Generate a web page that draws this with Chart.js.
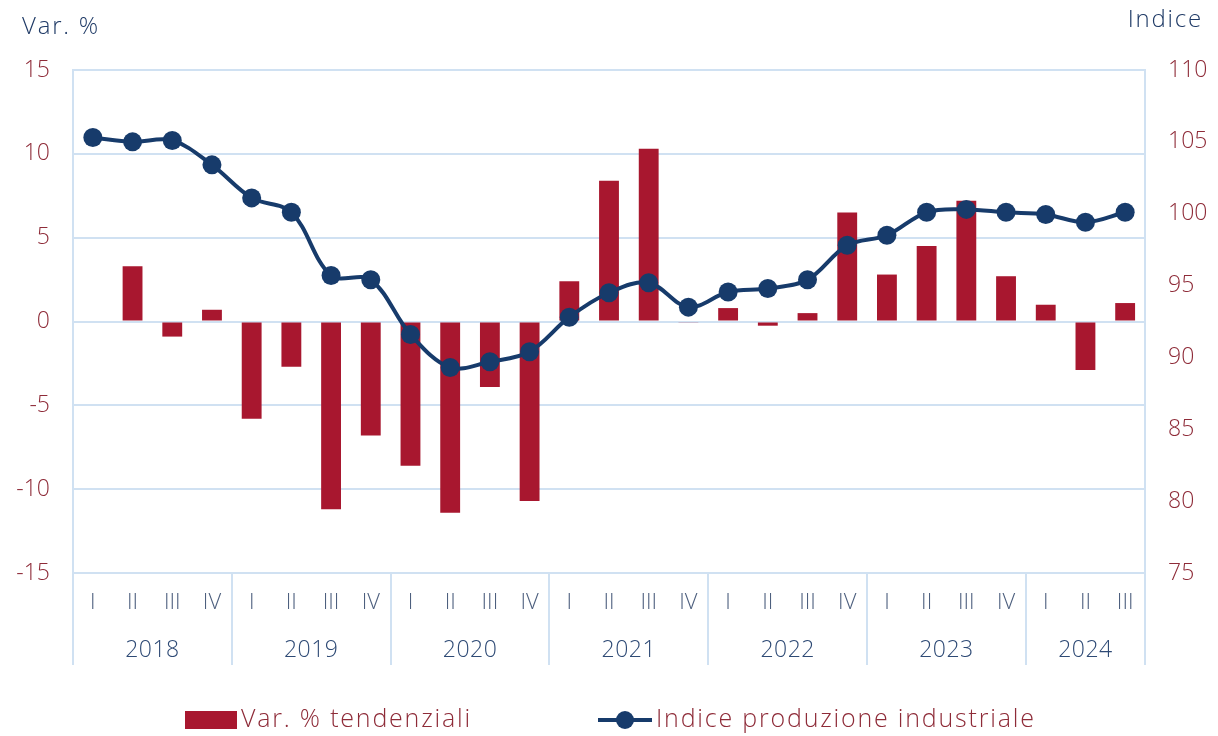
<!DOCTYPE html>
<html>
<head>
<meta charset="utf-8">
<script src="https://cdn.jsdelivr.net/npm/chart.js@4.4.1/dist/chart.umd.min.js"></script>
<style>
html,body{margin:0;padding:0;background:#ffffff;}
#wrap{width:1218px;height:736px;position:relative;}
</style>
</head>
<body>
<div id="wrap"><canvas id="c" width="1218" height="736"></canvas></div>
<script>
// ---- DATA ----
const quarters = ['I','II','III','IV','I','II','III','IV','I','II','III','IV','I','II','III','IV','I','II','III','IV','I','II','III','IV','I','II','III'];
const years = ['2018','2019','2020','2021','2022','2023','2024'];
const quartersPerYear = [4,4,4,4,4,4,3];
const varTendenziali = [0.0, 3.3, -0.9, 0.7, -5.8, -2.7, -11.2, -6.8, -8.6, -11.4, -3.9, -10.7, 2.4, 8.4, 10.3, -0.05, 0.8, -0.25, 0.5, 6.5, 2.8, 4.5, 7.2, 2.7, 1.0, -2.9, 1.1];
const indiceProduzione = [105.3, 105.0, 105.1, 103.4, 101.1, 100.1, 95.7, 95.4, 91.6, 89.3, 89.7, 90.4, 92.8, 94.5, 95.2, 93.5, 94.55, 94.8, 95.4, 97.8, 98.5, 100.1, 100.3, 100.1, 99.95, 99.4, 100.1];
const leftAxisRange = [-15, 15, 5];
const rightAxisRange = [75, 110, 5];
const seriesNames = ['Var. % tendenziali', 'Indice produzione industriale'];
const axisTitles = ['Var. %', 'Indice'];

// ---- STYLE ----
const RED = '#A8172F';
const NAVY = '#173B6B';
const TICK_RED = '#8E2B38';
const GRID = '#D0E1F2';
const FONT = '"Open Sans", Lato, sans-serif';
const W = '300';

const overlay = {
  id: 'overlay',
  afterDraw(chart) {
    const ctx = chart.ctx;
    const x = chart.scales.x;
    const area = chart.chartArea;
    const sepBottom = 665;
    ctx.save();
    ctx.strokeStyle = GRID;
    ctx.lineWidth = 2;
    let idx = 0;
    const bounds = [area.left];
    ctx.fillStyle = '#2E4A75';
    ctx.font = W + ' 23px ' + FONT;
    ctx.textAlign = 'center';
    ctx.textBaseline = 'middle';
    ctx.letterSpacing = '0.5px';
    years.forEach((yr, i) => {
      const first = idx, last = idx + quartersPerYear[i] - 1;
      const cx = (x.getPixelForValue(first) + x.getPixelForValue(last)) / 2;
      ctx.fillText(yr, cx, 650);
      idx += quartersPerYear[i];
      if (idx < quarters.length) {
        bounds.push((x.getPixelForValue(idx - 1) + x.getPixelForValue(idx)) / 2);
      }
    });
    bounds.push(area.right);
    bounds.forEach(bx => {
      ctx.beginPath();
      ctx.moveTo(Math.round(bx), area.bottom);
      ctx.lineTo(Math.round(bx), sepBottom);
      ctx.stroke();
    });
    // axis titles
    ctx.fillStyle = '#1F3A66';
    ctx.font = W + ' 24px ' + FONT;
    ctx.letterSpacing = '1.8px';
    ctx.textAlign = 'left';
    ctx.fillText(axisTitles[0], 22, 27);
    ctx.textAlign = 'right';
    ctx.fillText(axisTitles[1], 1203, 20);
    // legend
    const ly = 720;
    ctx.fillStyle = RED;
    ctx.fillRect(185, 711, 52, 18);
    ctx.fillStyle = TICK_RED;
    ctx.font = W + ' 25px ' + FONT;
    ctx.letterSpacing = '1.8px';
    ctx.textAlign = 'left';
    ctx.fillText(seriesNames[0], 241, ly);
    ctx.strokeStyle = NAVY;
    ctx.lineWidth = 4;
    ctx.beginPath();
    ctx.moveTo(598, ly); ctx.lineTo(652, ly); ctx.stroke();
    ctx.fillStyle = NAVY;
    ctx.beginPath();
    ctx.arc(625, ly, 9, 0, Math.PI * 2); ctx.fill();
    ctx.fillStyle = TICK_RED;
    ctx.fillText(seriesNames[1], 656, ly);
    ctx.restore();
  }
};

new Chart(document.getElementById('c'), {
  data: {
    labels: quarters,
    datasets: [
      {
        type: 'line',
        label: seriesNames[1],
        data: indiceProduzione,
        yAxisID: 'y1',
        borderColor: NAVY,
        backgroundColor: NAVY,
        borderWidth: 4,
        pointRadius: 9.5,
        pointBackgroundColor: NAVY,
        pointBorderWidth: 0,
        tension: 0.35,
        order: 0
      },
      {
        type: 'bar',
        label: seriesNames[0],
        data: varTendenziali,
        yAxisID: 'y',
        backgroundColor: RED,
        barPercentage: 0.5,
        categoryPercentage: 1.0,
        order: 1
      }
    ]
  },
  options: {
    responsive: false,
    animation: false,
    layout: { padding: { top: 70, left: 0, right: 0, bottom: 0 } },
    plugins: { legend: { display: false }, tooltip: { enabled: false } },
    scales: {
      x: {
        type: 'category',
        offset: true,
        grid: { display: false, drawTicks: false },
        border: { display: false },
        ticks: { color: '#4D5F7E', font: { family: FONT, size: 22, weight: W }, padding: 17, maxRotation: 0, autoSkip: false },
        afterFit(s) { s.height = 163; }
      },
      y: {
        position: 'left',
        min: leftAxisRange[0], max: leftAxisRange[1],
        ticks: { stepSize: leftAxisRange[2], color: TICK_RED, font: { family: FONT, size: 23, weight: W }, padding: 23 },
        grid: { color: GRID, lineWidth: 2, drawTicks: false },
        border: { color: GRID, width: 2 },
        afterFit(s) { s.width = 73; }
      },
      y1: {
        position: 'right',
        min: rightAxisRange[0], max: rightAxisRange[1],
        ticks: { stepSize: rightAxisRange[2], color: TICK_RED, font: { family: FONT, size: 23, weight: W }, padding: 23 },
        grid: { drawOnChartArea: false, drawTicks: false },
        border: { color: GRID, width: 2 },
        afterFit(s) { s.width = 73; }
      }
    }
  },
  plugins: [overlay]
});
</script>
</body>
</html>
